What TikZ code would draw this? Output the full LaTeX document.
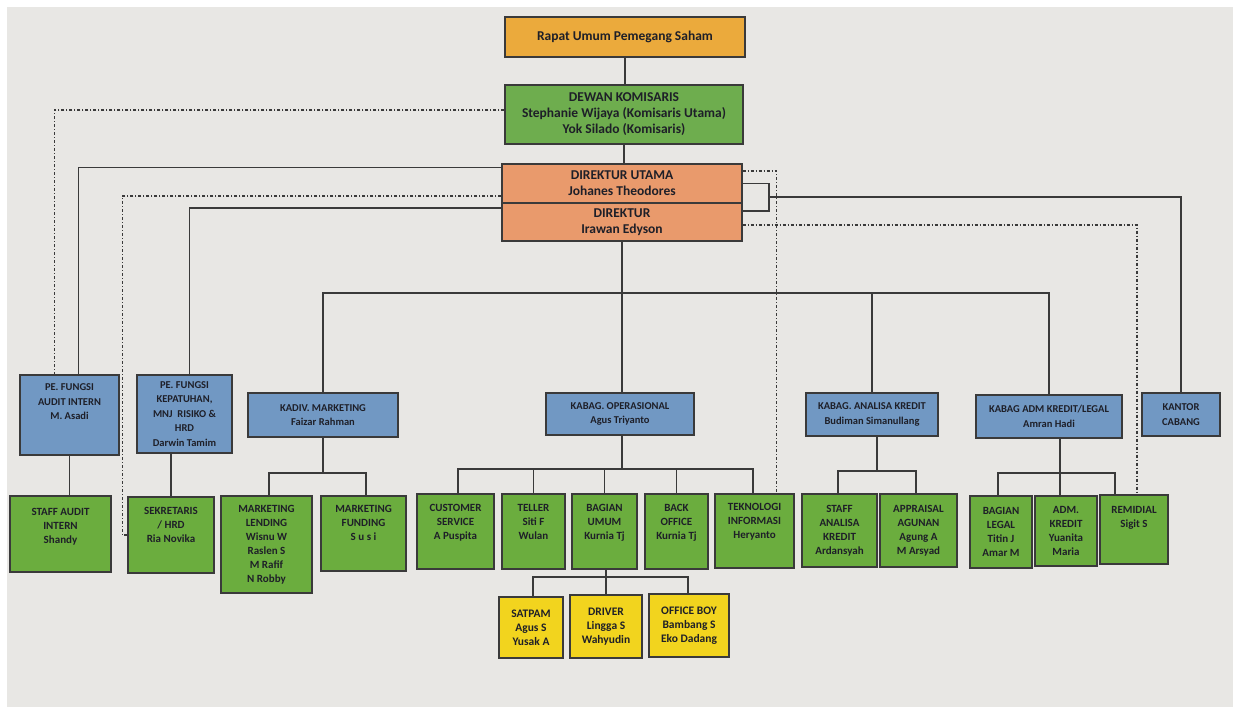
\documentclass[tikz,border=0pt]{standalone}
\usepackage{fontspec}
\setmainfont{Carlito}

\definecolor{kertas}{HTML}{E8E7E4}
\definecolor{oranye}{HTML}{EBAA3C}
\definecolor{hijau}{HTML}{6EAD4E}
\definecolor{hijaumuda}{HTML}{6BAD3E}
\definecolor{salem}{HTML}{E99A6C}
\definecolor{biru}{HTML}{7198C3}
\definecolor{kuning}{HTML}{F2D41E}
\definecolor{garis}{HTML}{3A3A3A}
\definecolor{tinta}{HTML}{1E1F28}

\tikzset{
  kotak/.style={draw=garis, line width=1.1pt, align=center, inner sep=1pt, text=tinta},
  pimpinan/.style={kotak, font=\fontsize{13.5}{16}\selectfont\bfseries},
  kabag/.style={kotak, fill=biru, font=\fontsize{10.5}{14.5}\selectfont\bfseries},
  staf/.style={kotak, fill=hijaumuda, font=\fontsize{11}{14}\selectfont\bfseries},
  pembantu/.style={kotak, fill=kuning, font=\fontsize{11.5}{14}\selectfont\bfseries},
  hub/.style={draw=garis, line width=1.1pt},
  putus/.style={draw=garis, line width=1.2pt, dash pattern=on 3pt off 2pt on 1pt off 2pt}
}

\begin{document}
\begin{tikzpicture}[x=1pt, y=-1pt]
    % --- LATAR ---
    \useasboundingbox (0,0) rectangle (1233,707);
    \fill[white] (0,0) rectangle (1233,707);
    \fill[kertas] (7,7) rectangle (1233,707);

    % --- PIMPINAN ---
    \node[pimpinan, fill=oranye, minimum width=240, minimum height=40] (rups) at (625,37) {Rapat Umum Pemegang Saham};
    \node[pimpinan, fill=hijau, minimum width=238, minimum height=59] (dekom) at (624,114.5)
        {DEWAN KOMISARIS\\Stephanie Wijaya (Komisaris Utama)\\Yok Silado (Komisaris)};
    \node[pimpinan, fill=salem, minimum width=240, minimum height=39] (dirut) at (622,183.5) {DIREKTUR UTAMA\\Johanes Theodores};
    \node[pimpinan, fill=salem, minimum width=240, minimum height=38] (dir) at (622,222) {DIREKTUR\\Irawan Edyson};

    % --- KEPALA BAGIAN ---
    \node[kabag, minimum width=99, minimum height=80] (audit) at (69.5,415) {PE. FUNGSI\\AUDIT INTERN\\M. Asadi\\[12pt]};
    \node[kabag, minimum width=95, minimum height=78] (patuh) at (184.5,414)
        {PE. FUNGSI\\KEPATUHAN,\\MNJ~~RISIKO \&\\HRD\\Darwin Tamim};
    \node[kabag, minimum width=150, minimum height=44] (mkt) at (323,415) {KADIV. MARKETING\\Faizar Rahman};
    \node[kabag, minimum width=148, minimum height=42] (ops) at (620,414) {KABAG. OPERASIONAL\\Agus Triyanto};
    \node[kabag, minimum width=132, minimum height=43] (analisa) at (872,414.5) {KABAG. ANALISA KREDIT\\Budiman Simanullang};
    \node[kabag, minimum width=146, minimum height=43] (admkr) at (1049,416.5) {KABAG ADM KREDIT/LEGAL\\Amran Hadi};
    \node[kabag, minimum width=78, minimum height=43] (cabang) at (1181,414.5) {KANTOR\\CABANG};

    % --- STAF ---
    \node[staf, minimum width=101, minimum height=76] (staffaudit) at (60.5,534) {STAFF AUDIT\\INTERN\\Shandy\\[2pt]};
    \node[staf, minimum width=86, minimum height=76] (sekr) at (171,535) {SEKRETARIS\\/ HRD\\Ria Novika\\[6pt]};
    \node[staf, minimum width=91, minimum height=97] (lending) at (266.5,544.5)
        {MARKETING\\LENDING\\Wisnu W\\Raslen S\\M Rafif\\N Robby};
    \node[staf, minimum width=85, minimum height=75] (funding) at (363.5,533.5) {MARKETING\\FUNDING\\S u s i\\[8pt]};
    \node[staf, minimum width=77, minimum height=75] (cs) at (455.5,531.5) {CUSTOMER\\SERVICE\\A Puspita\\[6pt]};
    \node[staf, minimum width=63, minimum height=75] (teller) at (533.5,531.5) {TELLER\\Siti F\\Wulan\\[6pt]};
    \node[staf, minimum width=65, minimum height=75] (umum) at (604.5,531.5) {BAGIAN\\UMUM\\Kurnia Tj\\[6pt]};
    \node[staf, minimum width=63, minimum height=75] (back) at (676.5,531.5) {BACK\\OFFICE\\Kurnia Tj\\[6pt]};
    \node[staf, minimum width=79, minimum height=74] (ti) at (754.5,531) {TEKNOLOGI\\INFORMASI\\Heryanto\\[6pt]};
    \node[staf, minimum width=75, minimum height=73] (staffan) at (839.5,530.5) {STAFF\\ANALISA\\KREDIT\\Ardansyah};
    \node[staf, minimum width=77, minimum height=73] (appr) at (918.5,530.5) {APPRAISAL\\AGUNAN\\Agung A\\M Arsyad};
    \node[staf, minimum width=62, minimum height=72] (legal) at (1001,532) {BAGIAN\\LEGAL\\Titin J\\Amar M};
    \node[staf, minimum width=62, minimum height=70] (admk) at (1066,531) {ADM.\\KREDIT\\Yuanita\\Maria};
    \node[staf, minimum width=68, minimum height=69] (remid) at (1134,529.5) {REMIDIAL\\Sigit S\\[12pt]};

    % --- BAGIAN UMUM ---
    \node[pembantu, minimum width=64, minimum height=61] (satpam) at (531,627.5) {SATPAM\\Agus S\\Yusak A};
    \node[pembantu, minimum width=72, minimum height=63] (driver) at (606,626.5) {DRIVER\\Lingga S\\Wahyudin};
    \node[pembantu, minimum width=80, minimum height=63] (ob) at (689,625.5) {OFFICE BOY\\Bambang S\\Eko Dadang};

    % --- TITIK CABANG GARIS ---
    \coordinate (bus) at (622,293);
    \coordinate (bmkt) at (323,473);
    \coordinate (bops) at (622,469);
    \coordinate (bumum) at (606,577);
    \coordinate (banl) at (877,471);
    \coordinate (badm) at (1060,473);
    \coordinate (kurung) at (769,197);

    % --- GARIS KOMANDO ---
    \draw[hub] (rups.south) -- (rups.south |- dekom.north);
    \draw[hub] (dekom.south) -- (dekom.south |- dirut.north);
    \draw[hub] (dir.south) -- (dir.south |- ops.north);
    \draw[hub] (mkt.north) |- (bus) -| (admkr.north);
    \draw[hub] (analisa.north) -- (analisa.north |- bus);
    \draw[hub] ([yshift=16pt]dirut.west) -| ([xshift=9pt]audit.north);
    \draw[hub] ([yshift=14pt]dir.west) -| ([xshift=5pt]patuh.north);
    \draw[hub] (dirut.east) -- (dirut.east -| kurung) |- ([yshift=11pt]dir.east);
    \draw[hub] (kurung) -| (cabang.north);

    % garis ke staf
    \draw[hub] (audit.south) -- (audit.south |- staffaudit.north);
    \draw[hub] (sekr.north) -- (sekr.north |- patuh.south);
    \draw[hub] (mkt.south) -- (bmkt);
    \draw[hub] ([xshift=2.5pt]lending.north) |- (bmkt) -| ([xshift=2.5pt]funding.north);
    \draw[hub] (ops.south -| bops) -- (bops);
    \draw[hub] ([xshift=2.5pt]cs.north) |- (bops) -| ([xshift=-1.5pt]ti.north);
    \foreach \n in {teller, umum, back}
        \draw[hub] (\n.north) -- (\n.north |- bops);
    \draw[hub] ([xshift=5pt]analisa.south) -- (banl);
    \draw[hub] ([xshift=-1.5pt]staffan.north) |- (banl) -| ([xshift=-2.5pt]appr.north);
    \draw[hub] ([xshift=11pt]admkr.south) -- (badm);
    \draw[hub] ([xshift=-3pt]legal.north) |- (badm) -| ([xshift=-19pt]remid.north);
    \draw[hub] (admk.north -| badm) -- (badm);
    \draw[hub] (umum.south -| bumum) -- (bumum);
    \draw[hub] ([xshift=2pt]satpam.north) |- (bumum) -| ([xshift=-1pt]ob.north);
    \draw[hub] (driver.north) -- (driver.north |- bumum);

    % --- GARIS KOORDINASI (putus-putus) ---
    \draw[putus] ([yshift=4.5pt]dekom.west) -| ([xshift=-15pt]audit.north);
    \draw[putus] ([yshift=-12.5pt]dirut.west) -| ([xshift=-5pt]sekr.west) -- (sekr.west);
    \draw[putus] ([yshift=12.5pt]dirut.east) -| ([xshift=22pt]ti.north);
    \draw[putus] ([yshift=-3pt]dir.east) -| ([xshift=3pt]remid.north);

\end{tikzpicture}
\end{document}
